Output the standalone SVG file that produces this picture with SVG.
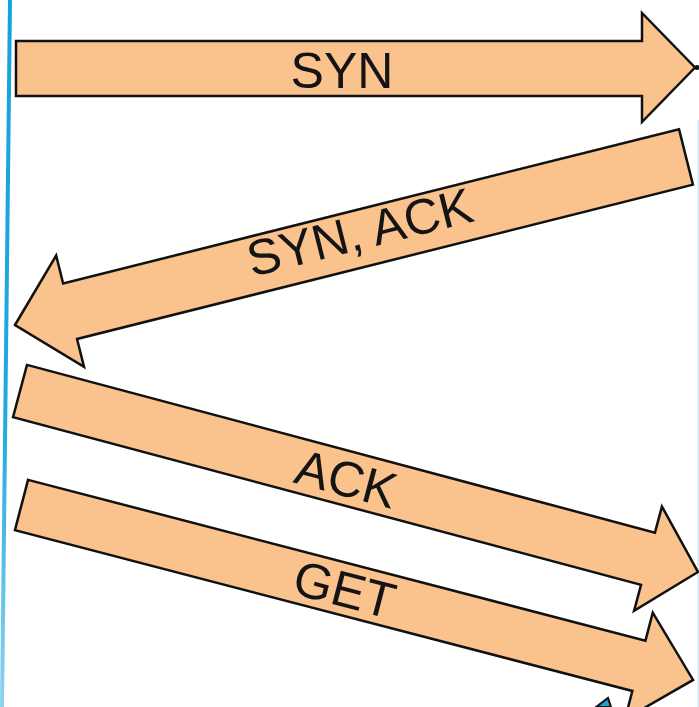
<svg xmlns="http://www.w3.org/2000/svg" width="699" height="707" viewBox="0 0 699 707">
  <defs>
    <linearGradient id="lifeGrad" x1="0" y1="0" x2="0" y2="1">
      <stop offset="0" stop-color="#12a3da"/>
      <stop offset="0.6" stop-color="#22aadf"/>
      <stop offset="1" stop-color="#8fd3ef"/>
    </linearGradient>
  </defs>
  <style>
    .msg { fill: #fac28c; stroke: #111; stroke-width: 2.5; stroke-linejoin: miter; }
    .lbl { font-family: "Liberation Sans", Arial, sans-serif; font-size: 50px; fill: #141414; text-anchor: middle; }
    .life { fill: none; stroke: url(#lifeGrad); stroke-width: 4; }
  </style>
  <rect x="0" y="0" width="699" height="707" fill="#ffffff"/>
  <g id="lifelines">
    <line class="life" x1="10" y1="0" x2="2" y2="707"/>
    <line x1="698" y1="120" x2="698" y2="707" stroke="#cfe9f6" stroke-width="1.5"/>
  </g>
  <g id="connectors">
    <circle cx="697" cy="67.5" r="2.5" fill="#111"/>
    <polygon points="596,707 608,698 611,707" fill="#1ba3d8" stroke="#111" stroke-width="2"/>
  </g>
  <g id="syn">
    <path class="msg" d="M16,41 H642 V13 L695,67.5 L642,122 V96 H16 Z"/>
    <text class="lbl" x="342" y="88">SYN</text>
  </g>
  <g id="synack" transform="translate(15,325) rotate(-14.06)">
    <path class="msg" d="M0,0 L56.8,-57.4 L56.8,-28.6 L691.7,-28.6 L691.7,28.6 L56.8,28.6 L56.8,57.4 Z"/>
    <text class="lbl" x="357" y="11">SYN, ACK</text>
  </g>
  <g id="ack" transform="translate(20,391) rotate(14.95)">
    <path class="msg" d="M0,-27 L650,-27 L650,-54 L701.7,0 L650,54 L650,27 L0,27 Z"/>
    <text class="lbl" x="338" y="18">ACK</text>
  </g>
  <g id="get" transform="translate(21.5,505) rotate(14.6)">
    <path class="msg" d="M0,-26 L638,-26 L638,-55 L694,0 L638,55 L638,26 L0,26 Z"/>
    <text class="lbl" x="334" y="17.6">GET</text>
  </g>
</svg>
